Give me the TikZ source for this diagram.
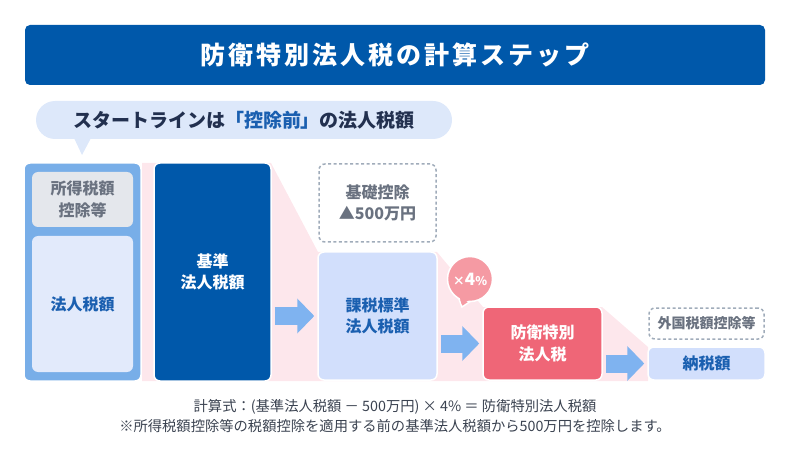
\documentclass[tikz,border=0pt]{standalone}
\usepackage{fontspec}
\setmainfont{Noto Sans CJK JP}
\usetikzlibrary{arrows.meta}

\definecolor{titleblue}{HTML}{0058AA}
\definecolor{bubblefill}{HTML}{DDE8FA}
\definecolor{bubbletext}{HTML}{22304F}
\definecolor{keyblue}{HTML}{1A5FB0}
\definecolor{outerblue}{HTML}{78AEE8}
\definecolor{creditgray}{HTML}{E4E7EC}
\definecolor{graytext}{HTML}{6A7280}
\definecolor{palefill}{HTML}{E2EAFB}
\definecolor{softfill}{HTML}{D2DFFC}
\definecolor{bandpink}{HTML}{FDE7EC}
\definecolor{flowblue}{HTML}{7FB3F0}
\definecolor{taxred}{HTML}{EF6677}
\definecolor{ratepink}{HTML}{F59AA3}
\definecolor{dashgray}{HTML}{A0ACBA}
\definecolor{notetext}{HTML}{3A4250}

\begin{document}
\begin{tikzpicture}[x=1pt, y=-1pt,
    taxbox/.style={rectangle, draw=white, line width=1.5pt, rounded corners=6pt, align=center, font=\bfseries\fontsize{16}{21.5}\selectfont},
    innerbox/.style={rectangle, rounded corners=6pt, align=center, font=\bfseries\fontsize{16}{21.5}\selectfont},
    dashbox/.style={rectangle, draw=dashgray, line width=1.5pt, dash pattern=on 3pt off 2.5pt, fill=white, rounded corners=6pt, align=center, text=graytext, font=\bfseries\fontsize{16}{21.5}\selectfont},
    flow/.style={draw=flowblue, line width=18pt, shorten <=3pt, shorten >=3pt, -{Triangle[length=17pt, width=34pt]}},
    note/.style={text=notetext, font=\fontsize{14.3}{17}\selectfont}
]
\useasboundingbox (0,0) rectangle (790,457);

% Title
\node[fill=titleblue, rounded corners=5pt, minimum width=740pt, minimum height=60pt, text=white, font=\bfseries\fontsize{25}{28}\selectfont\addfontfeature{LetterSpace=12}] (title) at (395,55) {防衛特別法人税の計算ステップ};

% Pink band behind the steps
\fill[bandpink] (142,163) -- (271,163) -- (318,252) -- (437,252) -- (483,307) -- (602,307) -- (648,347) -- (648,381) -- (142,381) -- cycle;

% Starting line bubble
\fill[bubblefill] (74,138) -- (82,155) -- (91,138) -- cycle;
\node[fill=bubblefill, rounded corners=19pt, minimum width=416pt, minimum height=38pt, text=bubbletext, font=\bfseries\fontsize{19}{24}\selectfont] (start) at (244,120) {スタートラインは{\color{keyblue}「控除前」}の法人税額};

% Steps
\node[taxbox, fill=outerblue, minimum width=117pt, minimum height=218pt] (total) at (82.5,272) {};
\node[innerbox, fill=creditgray, text=graytext, minimum width=101pt, minimum height=55pt] (credit) at (82.5,199.5) {所得税額\\控除等};
\node[innerbox, fill=palefill, text=keyblue, minimum width=101pt, minimum height=136pt] (corptax) at (82.5,304) {法人税額};
\node[taxbox, fill=titleblue, text=white, minimum width=117pt, minimum height=218pt] (kijun) at (212.5,272) {基準\\法人税額};
\node[dashbox, minimum width=117pt, minimum height=78pt] (kiso) at (377.5,203) {基礎控除\\▲500万円};
\node[taxbox, fill=softfill, text=keyblue, minimum width=119pt, minimum height=128pt] (kazei) at (377.5,316) {課税標準\\法人税額};
\node[taxbox, fill=taxred, text=white, minimum width=119pt, minimum height=73pt] (boei) at (542.5,343.5) {防衛特別\\法人税};
\node[dashbox, font=\bfseries\fontsize{14}{18}\selectfont, minimum width=115pt, minimum height=31pt] (gaikoku) at (706.5,323.5) {外国税額控除等};
\node[taxbox, fill=softfill, text=keyblue, minimum width=117pt, minimum height=33pt] (nozei) at (706.5,363.5) {納税額};

% Rate bubble
\fill[ratepink, draw=white, line width=1.5pt] (457,294) -- (462,307) -- (474,299) -- cycle;
\node[circle, fill=ratepink, draw=white, line width=1.5pt, minimum size=45pt, inner sep=0pt, text=white, font=\bfseries\fontsize{17}{18}\selectfont] (rate) at (470,279) {{\fontsize{12}{14}\selectfont×}4{\fontsize{12}{14}\selectfont\%}};
\fill[ratepink] (458,292) -- (462,305) -- (473,297) -- cycle;

% Arrows
\draw[flow] (kijun.east |- kazei.west) -- (kazei.west);
\draw[flow] (kazei.east |- boei.west) -- (boei.west);
\draw[flow] (boei.east |- nozei.west) -- (nozei.west);

% Notes
\node[note] (formula) at (395,407) {計算式：(基準法人税額 － 500万円) × 4\% ＝ 防衛特別法人税額};
\node[note] (remark) at (395,426) {※所得税額控除等の税額控除を適用する前の基準法人税額から500万円を控除します。};

\end{tikzpicture}
\end{document}
